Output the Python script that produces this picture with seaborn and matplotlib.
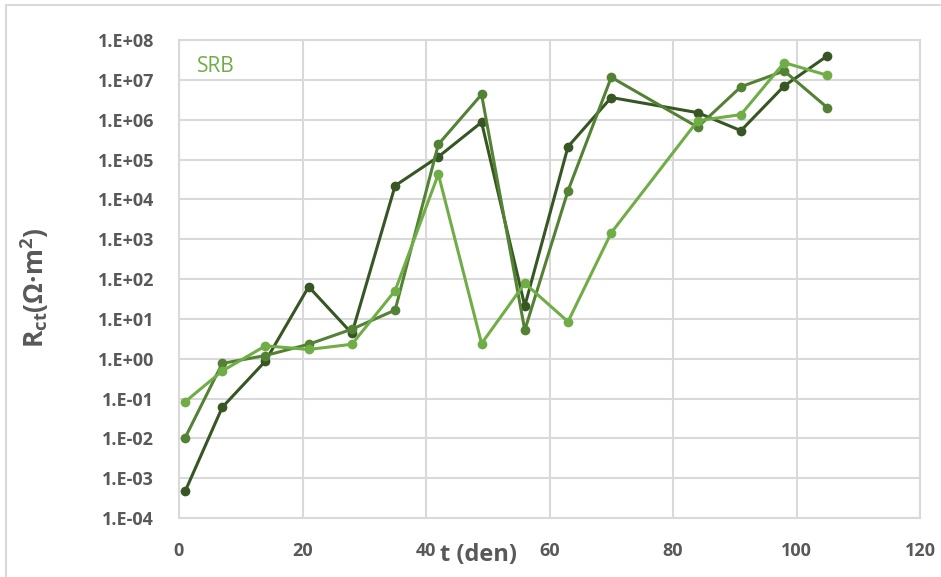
import numpy as np
import pandas as pd
import matplotlib
matplotlib.use("Agg")
import matplotlib.pyplot as plt
from matplotlib.ticker import FixedLocator, FuncFormatter, NullLocator
from matplotlib.patches import Rectangle
import seaborn as sns

# Sampling days
days = [1, 7, 14, 21, 28, 35, 42, 49, 56, 63, 70, 84, 91, 98, 105]

# Charge-transfer resistance, three specimens (Ohm*m^2)
rct_a = [4.7e-4, 0.06, 0.87, 64, 4.3, 2.2e4, 1.17e5, 8.6e5, 21, 2.1e5, 3.6e6, 1.5e6, 5.3e5, 7.0e6, 4.0e7]
rct_b = [0.0104, 0.76, 1.2, 2.3, 5.5, 16.6, 2.4e5, 4.3e6, 5.2, 1.65e4, 1.16e7, 6.5e5, 6.7e6, 1.67e7, 2.0e6]
rct_c = [0.083, 0.49, 2.1, 1.7, 2.3, 51, 4.3e4, 2.4, 78, 8.5, 1450, 9.4e5, 1.34e6, 2.7e7, 1.3e7]

series_names = ["A", "B", "C"]
series_colors = ["#375623", "#548235", "#70AD47"]

x_ticks = [0, 20, 40, 60, 80, 100, 120]
y_exponents = list(range(-4, 9))

df = pd.DataFrame({
    "t": days * 3,
    "rct": rct_a + rct_b + rct_c,
    "vzorek": [n for n in series_names for _ in days],
})

sns.set_theme(style="white")
plt.rcParams["font.family"] = ["Open Sans", "DejaVu Sans"]
plt.rcParams["mathtext.fontset"] = "custom"
plt.rcParams["mathtext.rm"] = "Open Sans"
plt.rcParams["mathtext.bf"] = "Open Sans:bold"
plt.rcParams["mathtext.it"] = "Open Sans:italic"

fig = plt.figure(figsize=(9.41, 5.77), dpi=100)
ax = fig.add_axes([179 / 941, 1 - 518 / 577, 741 / 941, 478 / 577])

# outer chart frame
fig.patches.append(Rectangle((6 / 941, -0.05), 1.2, 1 - 5 / 577 + 0.05,
                             transform=fig.transFigure, fill=False,
                             edgecolor="#D9D9D9", linewidth=1.5, zorder=0))

sns.lineplot(data=df, x="t", y="rct", hue="vzorek", palette=series_colors,
             hue_order=series_names, marker="o", markersize=7,
             markeredgewidth=0, linewidth=2.2, legend=False, ax=ax,
             zorder=3)

ax.set_yscale("log")
ax.set_xlim(0, 120)
ax.set_ylim(1e-4, 1e8)
ax.xaxis.set_major_locator(FixedLocator(x_ticks))
ax.yaxis.set_major_locator(FixedLocator([10.0 ** e for e in y_exponents]))
ax.yaxis.set_minor_locator(NullLocator())
ax.yaxis.set_major_formatter(FuncFormatter(
    lambda v, p: "1.E{:+03d}".format(int(round(np.log10(v))))))

ax.grid(True, which="major", color="#D9D9D9", linewidth=1.5)
ax.set_axisbelow(True)
for s in ax.spines.values():
    s.set_color("#D9D9D9")
    s.set_linewidth(1.5)

ax.tick_params(axis="both", which="both", length=0, labelsize=13,
               labelcolor="#595959")
ax.tick_params(axis="x", pad=17)
ax.tick_params(axis="y", pad=18)
for lbl in ax.get_xticklabels() + ax.get_yticklabels():
    lbl.set_fontweight("bold")

ax.set_xlabel("t (den)", fontsize=17, fontweight="bold", color="#595959")
ax.xaxis.set_label_coords((478 - 179) / 741, (518 - 555) / 478)
ax.xaxis.label.set_va("center")

ax.set_ylabel(r"R$_{\mathbf{ct}}$(Ω·m$^{\mathbf{2}}$)", fontsize=19,
              fontweight="bold", color="#595959")
ax.yaxis.set_label_coords((35 - 179) / 741, (518 - 288) / 478)
ax.yaxis.label.set_va("center")

ax.text((197 - 179) / 741, (518 - 66) / 478, "SRB", transform=ax.transAxes,
        fontsize=15, color="#70AD47", ha="left", va="center")

fig.savefig("out.png", dpi=100, facecolor="white")
